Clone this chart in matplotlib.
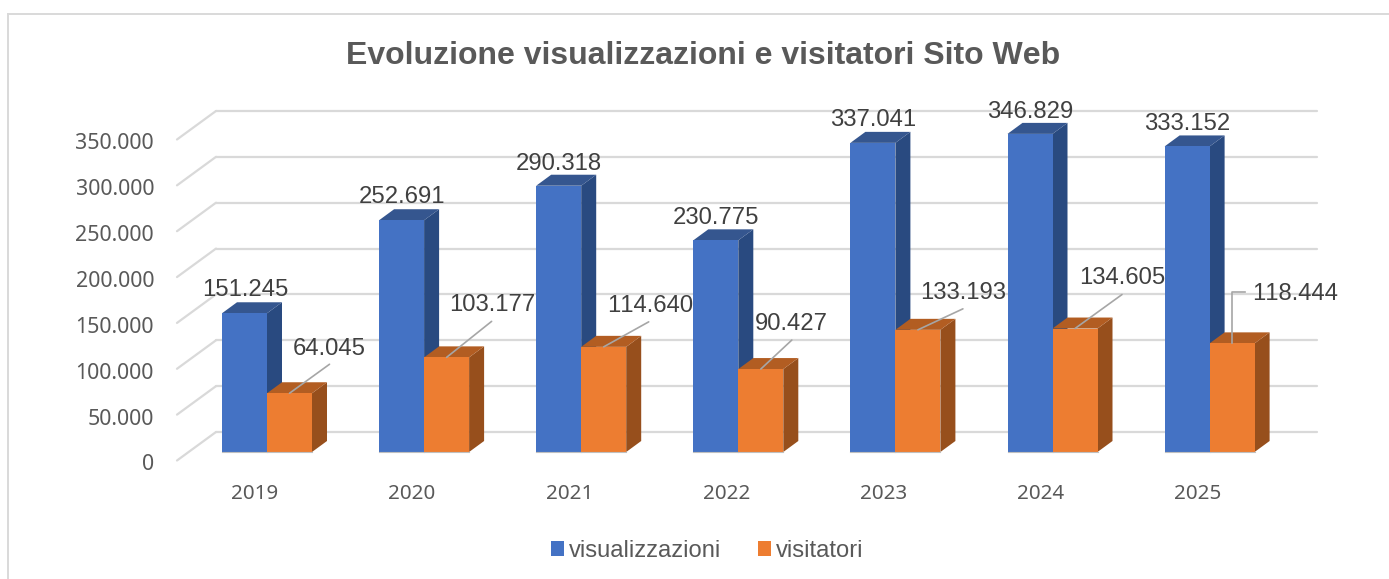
import matplotlib
matplotlib.use('Agg')
import matplotlib.pyplot as plt
from matplotlib.patches import Polygon, Patch

plt.rcParams['text.kerning_factor'] = 6

years = ['2019', '2020', '2021', '2022', '2023', '2024', '2025']
visualizzazioni = [151245, 252691, 290318, 230775, 337041, 346829, 333152]
visitatori = [64045, 103177, 114640, 90427, 133193, 134605, 118444]
y_ticks = [0, 50000, 100000, 150000, 200000, 250000, 300000, 350000]

# label placement, pixels from the front top centre of each bar
blue_label_off = [(1, 23), (0, 23), (0, 22), (0, 22), (0, 23), (0, 22), (0, 22)]
orange_label_off = [(40, 44), (46, 52), (46, 41), (31, 45), (45, 37), (47, 51), (63, 49)]
leader_off = [(40, 29), (45, 36), (45, 25), (31, 29), (45, 21), (47, 34)]

# scale of the picture
W, H = 1389, 579
px_per_cat = 157.1
px_per_val = 45.86 / 50000
x0_px, y0_px = 267.0, 452.0
dpi = 100

BLUE, BLUE_TOP, BLUE_SIDE = '#4472C4', '#35568F', '#294A80'
ORANGE, ORANGE_TOP, ORANGE_SIDE = '#ED7D31', '#B25D22', '#974F1C'
GRID = '#D9D9D9'
TEXT = '#404040'
TICK = '#595959'


def dx(px):
    return px / px_per_cat


def dy(px):
    return px / px_per_val


fig = plt.figure(figsize=(W / dpi, H / dpi), dpi=dpi, facecolor='white')
ax = fig.add_axes([0, 0, 1, 1])
ax.set_xlim(-x0_px / px_per_cat, (W - x0_px) / px_per_cat)
ax.set_ylim(-dy(H - y0_px), dy(y0_px))
ax.axis('off')

# outer frame, only top and left show
ax.plot([dx(8 - x0_px), dx(W - x0_px)], [dy(y0_px - 14)] * 2, color=GRID, lw=1.4, zorder=1)
ax.plot([dx(8 - x0_px)] * 2, [dy(y0_px - 14), -dy(H - y0_px)], color=GRID, lw=1.4, zorder=1)

# gridlines on back wall + diagonal on the side wall
bw_l, bw_r, fl = dx(216 - x0_px), dx(1317 - x0_px), dx(177 - x0_px)
for v in y_ticks:
    ax.plot([bw_l, bw_r], [v + dy(20)] * 2, color=GRID, lw=1.6, zorder=1, solid_capstyle='round')
    ax.plot([fl, bw_l], [v - dy(8.5), v + dy(20)], color=GRID, lw=1.6, zorder=1, solid_capstyle='round')
    ax.annotate(f'{v:,}'.replace(',', '.'), (fl, v), xytext=(-23, -13), textcoords='offset pixels',
                ha='right', va='center', fontsize=15.4, color=TICK, family='Noto Sans')

for i, y in enumerate(years):
    ax.annotate(y, (i, 0), xytext=(-12, -42), textcoords='offset pixels', ha='center', va='center',
                fontsize=14.8, color=TICK, family='Noto Sans')


def bar3d(x, w, v, front, top, side, z):
    ox, oy = dx(15), dy(11)
    ax.add_patch(Polygon([(x + w, 0), (x + w + ox, oy), (x + w + ox, v + oy), (x + w, v)], fc=side, ec='none', zorder=z))
    ax.add_patch(Polygon([(x, v), (x + ox, v + oy), (x + w + ox, v + oy), (x + w, v)], fc=top, ec='none', zorder=z))
    ax.bar(x, v, width=w, align='edge', color=front, zorder=z + 0.1)
    ax.plot([x, x + w], [0, 0], color='#BFBFBF', lw=0.8, zorder=z + 0.2)


bw = dx(45)
for i in range(len(years)):
    bar3d(i - bw, bw, visualizzazioni[i], BLUE, BLUE_TOP, BLUE_SIDE, 3)
    bar3d(i, bw, visitatori[i], ORANGE, ORANGE_TOP, ORANGE_SIDE, 4)

# leader lines for the orange labels
for i, off in enumerate(leader_off):
    ax.annotate('', (i + bw / 2, visitatori[i]), xytext=off, textcoords=('offset pixels'),
                arrowprops=dict(arrowstyle='-', color='#A6A6A6', lw=1.2, shrinkA=0, shrinkB=0), zorder=6)
i = 6
ax.plot([i + bw / 2, i + bw / 2, i + bw / 2 + dx(13)],
        [visitatori[i], visitatori[i] + dy(51), visitatori[i] + dy(51)], color='#A6A6A6', lw=1.2, zorder=6)

# data labels
for i in range(len(years)):
    ax.annotate(f'{visualizzazioni[i]:,}'.replace(',', '.'), (i - bw / 2, visualizzazioni[i]),
                xytext=blue_label_off[i], textcoords='offset pixels', ha='center', va='center',
                fontsize=17.2, color=TEXT, family='Liberation Sans', zorder=7)
    ax.annotate(f'{visitatori[i]:,}'.replace(',', '.'), (i + bw / 2, visitatori[i]),
                xytext=orange_label_off[i], textcoords='offset pixels', ha='center', va='center',
                fontsize=17.2, color=TEXT, family='Liberation Sans', zorder=7)

fig.text(703 / W, 1 - 56 / H, 'Evoluzione visualizzazioni e visitatori Sito Web', ha='center', va='center',
         fontsize=23.05, fontweight='bold', color=TICK, family='Liberation Sans')

handles = [Patch(fc=BLUE, label='visualizzazioni'), Patch(fc=ORANGE, label='visitatori')]
fig.legend(handles=handles, loc='center', bbox_to_anchor=(707 / W, 1 - 551 / H), ncol=2, frameon=False,
           handlelength=0.55, handleheight=0.55, handletextpad=0.2, columnspacing=1.55,
           borderpad=0, labelcolor=TICK, prop={'family': 'Liberation Sans', 'size': 17.1})

fig.savefig('out.png', dpi=dpi, facecolor='white')
